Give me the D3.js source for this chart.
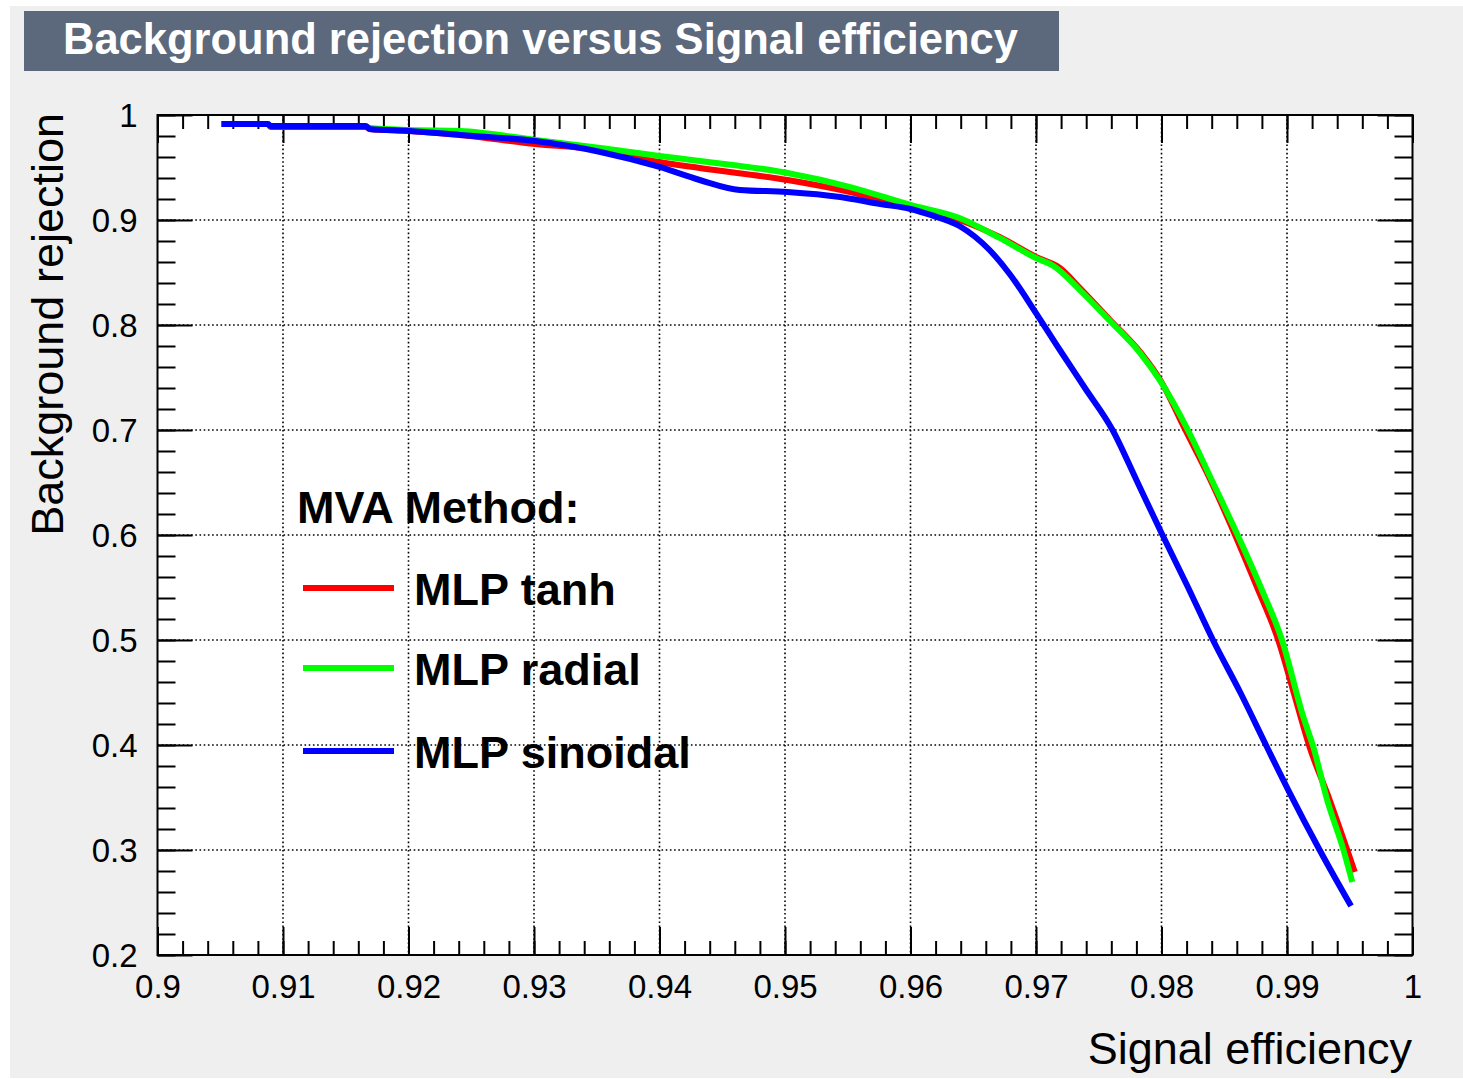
<!DOCTYPE html>
<html>
<head>
<meta charset="utf-8">
<script src="https://cdn.jsdelivr.net/npm/d3@7"></script>
<style>
  body { margin: 0; background: #fff; }
  svg { display: block; font-family: "Liberation Sans", Arial, sans-serif; }
</style>
</head>
<body>
<div class="roc"></div>
<script>
// signal efficiency / background rejection pairs
var mlpTanh = [
  [0.9051, 0.9914], [0.9088, 0.9914], [0.9090, 0.9886], [0.9166, 0.9886], [0.9169, 0.9867],
  [0.9201, 0.9848], [0.9241, 0.9810], [0.9301, 0.9724], [0.9353, 0.9667], [0.9400, 0.9552],
  [0.9432, 0.9495], [0.9502, 0.9381], [0.9552, 0.9267], [0.9600, 0.9124], [0.9639, 0.9000],
  [0.9671, 0.8838], [0.9700, 0.8648], [0.9719, 0.8543], [0.9735, 0.8352], [0.9759, 0.8048],
  [0.9783, 0.7743], [0.9799, 0.7476], [0.9819, 0.7000], [0.9839, 0.6524], [0.9859, 0.5990],
  [0.9876, 0.5505], [0.9893, 0.5000], [0.9907, 0.4429], [0.9918, 0.3981], [0.9934, 0.3476],
  [0.9948, 0.3000], [0.9954, 0.2790]
];

var mlpRadial = [
  [0.9051, 0.9914], [0.9088, 0.9914], [0.9090, 0.9895], [0.9166, 0.9895], [0.9169, 0.9876],
  [0.9201, 0.9857], [0.9241, 0.9848], [0.9301, 0.9762], [0.9353, 0.9686], [0.9400, 0.9610],
  [0.9432, 0.9562], [0.9502, 0.9448], [0.9552, 0.9314], [0.9600, 0.9143], [0.9639, 0.9019],
  [0.9671, 0.8829], [0.9700, 0.8638], [0.9714, 0.8562], [0.9735, 0.8333], [0.9759, 0.8038],
  [0.9783, 0.7733], [0.9799, 0.7467], [0.9821, 0.7000], [0.9840, 0.6524], [0.9861, 0.5990],
  [0.9879, 0.5505], [0.9896, 0.5000], [0.9913, 0.4267], [0.9921, 0.3981], [0.9932, 0.3476],
  [0.9945, 0.3000], [0.9952, 0.2695]
];

var mlpSinoidal = [
  [0.9051, 0.9914], [0.9088, 0.9914], [0.9090, 0.9895], [0.9166, 0.9895], [0.9169, 0.9867],
  [0.9201, 0.9848], [0.9241, 0.9810], [0.9301, 0.9752], [0.9353, 0.9648], [0.9400, 0.9505],
  [0.9432, 0.9381], [0.9464, 0.9286], [0.9502, 0.9267], [0.9544, 0.9219], [0.9576, 0.9152],
  [0.9600, 0.9105], [0.9616, 0.9048], [0.9639, 0.8943], [0.9663, 0.8714], [0.9679, 0.8486],
  [0.9700, 0.8114], [0.9719, 0.7762], [0.9739, 0.7400], [0.9761, 0.7000], [0.9780, 0.6524],
  [0.9800, 0.6019], [0.9821, 0.5505], [0.9841, 0.5000], [0.9863, 0.4495], [0.9884, 0.3981],
  [0.9901, 0.3571], [0.9926, 0.3000], [0.9951, 0.2467]
];

var methodNames = ["MLP tanh", "MLP radial", "MLP sinoidal"];

var xTicks = [0.9, 0.91, 0.92, 0.93, 0.94, 0.95, 0.96, 0.97, 0.98, 0.99, 1];
var xTickLabels = ["0.9", "0.91", "0.92", "0.93", "0.94", "0.95", "0.96", "0.97", "0.98", "0.99", "1"];
var yTicks = [0.2, 0.3, 0.4, 0.5, 0.6, 0.7, 0.8, 0.9, 1];
var yTickLabels = ["0.2", "0.3", "0.4", "0.5", "0.6", "0.7", "0.8", "0.9", "1"];

var W = 1463, H = 1079,
    frame = {left: 157.5, right: 1412.5, top: 115, bottom: 955},
    colors = ["#ff0000", "#00ff00", "#0000ff"];

var svg = d3.select("div.roc").append("svg")
    .attr("width", W)
    .attr("height", H);

// canvas
svg.append("rect").attr("width", W).attr("height", H).attr("fill", "#fff");
svg.append("rect")
    .attr("x", 10).attr("y", 6)
    .attr("width", W - 10).attr("height", H - 7)
    .attr("fill", "#efefef");

// title box
svg.append("rect")
    .attr("x", 24).attr("y", 11)
    .attr("width", 1035).attr("height", 60)
    .attr("fill", "#5c687b");
svg.append("text")
    .attr("x", 63).attr("y", 54)
    .attr("fill", "#fff")
    .attr("font-weight", "bold")
    .attr("font-size", 43.5)
    .text("Background rejection versus Signal efficiency");

var x = d3.scaleLinear().domain([0.9, 1]).range([frame.left, frame.right]);
var y = d3.scaleLinear().domain([0.2, 1]).range([frame.bottom, frame.top]);

var xMinor = d3.range(0, 51).map(function(i) { return 0.9 + i * 0.002; });
var yMinor = d3.range(0, 41).map(function(i) { return 0.2 + i * 0.02; });

svg.append("rect")
    .attr("x", frame.left).attr("y", frame.top)
    .attr("width", frame.right - frame.left)
    .attr("height", frame.bottom - frame.top)
    .attr("fill", "#fff");

// dotted grid
var grid = svg.append("g")
    .attr("stroke", "#000")
    .attr("stroke-width", 1.6)
    .attr("stroke-dasharray", "1.6 2.6");

grid.selectAll(".gx")
    .data(xTicks.slice(1, -1))
  .enter().append("line")
    .attr("x1", function(d) { return x(d); })
    .attr("x2", function(d) { return x(d); })
    .attr("y1", frame.top)
    .attr("y2", frame.bottom);

grid.selectAll(".gy")
    .data(yTicks.slice(1, -1))
  .enter().append("line")
    .attr("y1", function(d) { return y(d); })
    .attr("y2", function(d) { return y(d); })
    .attr("x1", frame.left)
    .attr("x2", frame.right);

// ticks on all four sides, pointing inwards
function styleAxis(g) {
  g.select(".domain").remove();
  g.selectAll(".tick line").attr("stroke", "#000").attr("stroke-width", 2);
}

svg.append("g")
    .attr("transform", "translate(0," + frame.bottom + ")")
    .call(d3.axisBottom(x).tickValues(xMinor).tickSize(-14).tickFormat(""))
    .call(styleAxis);

svg.append("g")
    .attr("transform", "translate(0," + frame.bottom + ")")
    .call(d3.axisBottom(x).tickValues(xTicks).tickSize(-28).tickPadding(20)
      .tickFormat(function(d, i) { return xTickLabels[i]; }))
    .call(styleAxis)
    .selectAll("text")
      .attr("fill", "#000")
      .attr("font-size", 33)
      .attr("font-family", "Liberation Sans, Arial, sans-serif");

svg.append("g")
    .attr("transform", "translate(0," + frame.top + ")")
    .call(d3.axisTop(x).tickValues(xMinor).tickSize(-14).tickFormat(""))
    .call(styleAxis);

svg.append("g")
    .attr("transform", "translate(0," + frame.top + ")")
    .call(d3.axisTop(x).tickValues(xTicks).tickSize(-28).tickFormat(""))
    .call(styleAxis);

svg.append("g")
    .attr("transform", "translate(" + frame.left + ",0)")
    .call(d3.axisLeft(y).tickValues(yMinor).tickSize(-18).tickFormat(""))
    .call(styleAxis);

svg.append("g")
    .attr("transform", "translate(" + frame.left + ",0)")
    .call(d3.axisLeft(y).tickValues(yTicks).tickSize(-35).tickPadding(20)
      .tickFormat(function(d, i) { return yTickLabels[i]; }))
    .call(styleAxis)
    .selectAll("text")
      .attr("fill", "#000")
      .attr("font-size", 33)
      .attr("dy", "0.36em")
      .attr("font-family", "Liberation Sans, Arial, sans-serif");

svg.append("g")
    .attr("transform", "translate(" + frame.right + ",0)")
    .call(d3.axisRight(y).tickValues(yMinor).tickSize(-18).tickFormat(""))
    .call(styleAxis);

svg.append("g")
    .attr("transform", "translate(" + frame.right + ",0)")
    .call(d3.axisRight(y).tickValues(yTicks).tickSize(-35).tickFormat(""))
    .call(styleAxis);

// frame
svg.append("rect")
    .attr("x", frame.left).attr("y", frame.top)
    .attr("width", frame.right - frame.left)
    .attr("height", frame.bottom - frame.top)
    .attr("fill", "none")
    .attr("stroke", "#000")
    .attr("stroke-width", 2);

// curves
var line = d3.line()
    .x(function(d) { return x(d[0]); })
    .y(function(d) { return y(d[1]); })
    .curve(d3.curveMonotoneX);

[mlpTanh, mlpRadial, mlpSinoidal].forEach(function(series, i) {
  svg.append("path")
      .datum(series)
      .attr("fill", "none")
      .attr("stroke", colors[i])
      .attr("stroke-width", 6)
      .attr("stroke-linejoin", "round")
      .attr("d", line);
});

// axis titles
svg.append("text")
    .attr("x", 1412).attr("y", 1064)
    .attr("text-anchor", "end")
    .attr("font-size", 45)
    .attr("fill", "#000")
    .text("Signal efficiency");

svg.append("text")
    .attr("transform", "translate(63,113) rotate(-90)")
    .attr("text-anchor", "end")
    .attr("font-size", 45)
    .attr("fill", "#000")
    .text("Background rejection");

// legend
var legend = svg.append("g");
legend.append("text")
    .attr("x", 297).attr("y", 523)
    .attr("font-size", 45)
    .attr("font-weight", "bold")
    .attr("fill", "#000")
    .text("MVA Method:");

var entry = legend.selectAll(".entry")
    .data(methodNames)
  .enter().append("g")
    .attr("transform", function(d, i) { return "translate(0," + [588, 668, 751][i] + ")"; });

entry.append("line")
    .attr("x1", 303).attr("x2", 394)
    .attr("stroke", function(d, i) { return colors[i]; })
    .attr("stroke-width", 6);

entry.append("text")
    .attr("x", 414).attr("y", 17)
    .attr("font-size", 45)
    .attr("font-weight", "bold")
    .attr("fill", "#000")
    .text(function(d) { return d; });
</script>
</body>
</html>
